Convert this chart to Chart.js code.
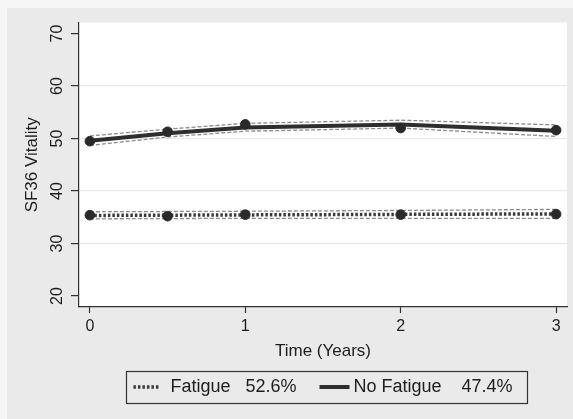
<!DOCTYPE html>
<html>
<head>
<meta charset="utf-8">
<script src="https://cdn.jsdelivr.net/npm/chart.js@4"></script>
<style>
  html, body { margin: 0; padding: 0; background: #f6f6f6; }
  #wrap { position: absolute; left: 7px; top: 8px; width: 566px; height: 411px; background: #eaeaea; }
  canvas { display: block; }
</style>
</head>
<body>
<div id="wrap"><canvas id="vitalityChart" width="566" height="411"></canvas></div>
<script>
// data
const timePoints = [0, 0.5, 1, 2, 3];
const fatigueObs = [35.4, 35.2, 35.5, 35.5, 35.6];
const fatigueFit = [35.35, 35.4, 35.45, 35.55, 35.65];
const fatigueUpper = [36.05, 36.1, 36.15, 36.3, 36.5];
const fatigueLower = [34.7, 34.75, 34.8, 34.8, 34.8];
const noFatigueObs = [49.5, 51.3, 52.7, 52.0, 51.6];
const noFatigueFit = [49.6, 51.0, 52.1, 52.7, 51.5];
const noFatigueUpper = [50.5, 51.8, 52.9, 53.5, 52.6];
const noFatigueLower = [48.7, 50.3, 51.4, 52.0, 50.4];
const xTicks = [0, 1, 2, 3];
const yTicks = [20, 30, 40, 50, 60, 70];
const gridValues = [30, 40, 50, 60];
const legendTexts = ['Fatigue   52.6%  ', 'No Fatigue    47.4%'];

const pts = ys => timePoints.map((t, i) => ({ x: t, y: ys[i] }));
const ink = '#1e1e1e';
const font = 'Liberation Sans, Arial, sans-serif';

const ciStyle = { borderColor: '#8c8c8c', borderWidth: 1.3, borderDash: [4, 2], pointRadius: 0, fill: false, tension: 0 };
const fatigueDash = [2.5, 2];

// white plot region
const plotBg = {
  id: 'plotBg',
  beforeDraw(chart) {
    const a = chart.chartArea, c = chart.ctx;
    c.save();
    c.fillStyle = '#ffffff';
    c.fillRect(a.left, a.top, a.right - a.left, a.bottom - a.top);
    c.restore();
  }
};

// legend line samples + box
const legendBox = {
  id: 'legendBox',
  afterDraw(chart) {
    const lg = chart.legend, c = chart.ctx;
    const hb = lg.legendHitBoxes;
    if (!hb || !hb.length) return;
    const cy = hb[0].top + hb[0].height / 2;
    c.save();
    c.strokeStyle = '#3a3a3a';
    c.lineWidth = 3.5;
    c.setLineDash(fatigueDash);
    c.beginPath(); c.moveTo(hb[0].left, cy); c.lineTo(hb[0].left + 27, cy); c.stroke();
    c.setLineDash([]);
    c.lineWidth = 4;
    c.strokeStyle = '#2e2e2e';
    c.beginPath(); c.moveTo(hb[1].left + 3, cy); c.lineTo(hb[1].left + 33, cy); c.stroke();
    const last = hb[hb.length - 1];
    const left = hb[0].left - 7, right = last.left + last.width + 15;
    c.lineWidth = 1.2;
    c.strokeStyle = '#333';
    c.strokeRect(Math.round(left) + 0.5, Math.round(cy - 16) + 0.5, Math.round(right - left), 32);
    c.restore();
  }
};

new Chart(document.getElementById('vitalityChart').getContext('2d'), {
  type: 'line',
  data: {
    datasets: [
      { label: 'obsF', type: 'scatter', data: pts(fatigueObs), backgroundColor: '#2a2a2a', borderColor: '#2a2a2a', pointRadius: 4.8, showLine: false },
      { label: 'obsN', type: 'scatter', data: pts(noFatigueObs), backgroundColor: '#2a2a2a', borderColor: '#2a2a2a', pointRadius: 4.8, showLine: false },
      { label: legendTexts[0], data: pts(fatigueFit), borderColor: '#3a3a3a', borderWidth: 3.5, borderDash: fatigueDash, pointRadius: 0, fill: false, tension: 0 },
      { label: legendTexts[1], data: pts(noFatigueFit), borderColor: '#2e2e2e', borderWidth: 4, pointRadius: 0, fill: false, tension: 0 },
      Object.assign({ label: 'ciFu', data: pts(fatigueUpper) }, ciStyle),
      Object.assign({ label: 'ciFl', data: pts(fatigueLower) }, ciStyle),
      Object.assign({ label: 'ciNu', data: pts(noFatigueUpper) }, ciStyle),
      Object.assign({ label: 'ciNl', data: pts(noFatigueLower) }, ciStyle)
    ]
  },
  options: {
    responsive: false,
    animation: false,
    layout: { padding: { left: 0, top: 14, right: 6, bottom: 13 } },
    plugins: {
      tooltip: { enabled: false },
      legend: {
        position: 'bottom',
        fullSize: false,
        labels: {
          filter: item => item.datasetIndex === 2 || item.datasetIndex === 3,
          boxWidth: 28,
          boxHeight: 0,
          padding: 10,
          color: ink,
          font: { size: 18, family: font },
          generateLabels: chart => chart.data.datasets.map((d, i) => ({
            text: d.label, datasetIndex: i, fillStyle: 'rgba(0,0,0,0)', strokeStyle: 'rgba(0,0,0,0)', lineWidth: 0, fontColor: ink
          }))
        }
      }
    },
    scales: {
      x: {
        type: 'linear',
        min: -0.07, max: 3.07,
        afterBuildTicks: s => { s.ticks = xTicks.map(v => ({ value: v })); },
        afterFit: s => { s.height = 61; },
        grid: { drawOnChartArea: false, tickLength: 6, tickColor: '#333', tickWidth: 1.2 },
        border: { color: '#333', width: 1.2 },
        ticks: { color: ink, padding: 4, font: { size: 16, family: font } },
        title: { display: true, text: 'Time (Years)', color: ink, font: { size: 17, family: font }, padding: { top: 0, bottom: 6 } }
      },
      y: {
        type: 'linear',
        min: 17.9, max: 72.1,
        afterBuildTicks: s => { s.ticks = yTicks.map(v => ({ value: v })); },
        afterFit: s => { s.width = 72; },
        grid: {
          color: c => gridValues.includes(c.tick && c.tick.value) ? '#e9e9e9' : 'rgba(0,0,0,0)',
          lineWidth: 1.2, tickLength: 8, tickColor: '#333', tickWidth: 1.2
        },
        border: { color: '#333', width: 1.2 },
        ticks: { color: ink, padding: 5, minRotation: 90, maxRotation: 90, crossAlign: 'center', autoSkip: false, font: { size: 16, family: font } },
        title: { display: true, text: 'SF36 Vitality', color: ink, font: { size: 17, family: font }, padding: { top: 15, bottom: 0 } }
      }
    }
  },
  plugins: [plotBg, legendBox]
});
</script>
</body>
</html>
